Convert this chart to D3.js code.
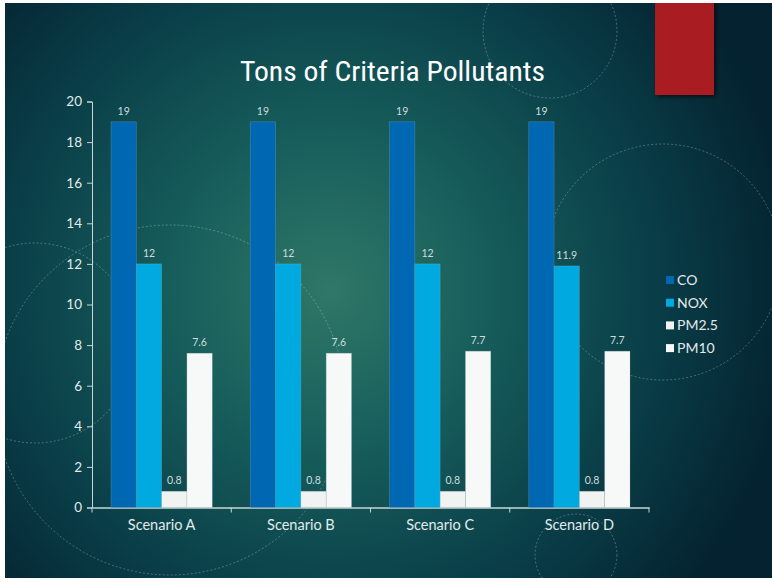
<!DOCTYPE html>
<html>
<head>
<meta charset="utf-8">
<script src="https://cdn.jsdelivr.net/npm/d3@7"></script>
<style>
  body { margin: 0; background: #ffffff; }
  svg { display: block; }
</style>
</head>
<body>
<script>
'use strict';

// chart data
let categories = ["Scenario A", "Scenario B", "Scenario C", "Scenario D"];
let seriesNames = ["CO", "NOX", "PM2.5", "PM10"];
let coValues = [19, 19, 19, 19];
let noxValues = [12, 12, 12, 11.9];
let pm25Values = [0.8, 0.8, 0.8, 0.8];
let pm10Values = [7.6, 7.6, 7.7, 7.7];
let yTicks = [0, 2, 4, 6, 8, 10, 12, 14, 16, 18, 20];
let colors = ["#0067b2", "#00a9e0", "#f1f2f2", "#f7f9f9"];

let seriesValues = [coValues, noxValues, pm25Values, pm10Values];

// page size
let W = 772, H = 582;
let margin = { top: 101.5, left: 92, bottom: 74.5, right: 123 };
let width = W - margin.left - margin.right,
  height = H - margin.top - margin.bottom;

let svg = d3.select("body").append("svg")
  .attr("width", W)
  .attr("height", H);

let defs = svg.append("defs");

// slide background gradient
let grad = defs.append("radialGradient")
  .attr("id", "bg")
  .attr("gradientUnits", "userSpaceOnUse")
  .attr("cx", 330).attr("cy", 290).attr("r", 470);
grad.append("stop").attr("offset", "0%").attr("stop-color", "#2f7767");
grad.append("stop").attr("offset", "35%").attr("stop-color", "#165c5b");
grad.append("stop").attr("offset", "70%").attr("stop-color", "#093d47");
grad.append("stop").attr("offset", "100%").attr("stop-color", "#04222f");

let shadow = defs.append("filter").attr("id", "shadow")
  .attr("x", "-20%").attr("y", "-20%").attr("width", "150%").attr("height", "150%");
shadow.append("feDropShadow")
  .attr("dx", 2).attr("dy", 2).attr("stdDeviation", 2)
  .attr("flood-color", "#000").attr("flood-opacity", 0.6);

let slide = { x: 5, y: 3, w: W - 5, h: H - 7 };

defs.append("clipPath").attr("id", "slideClip")
  .append("rect")
  .attr("x", slide.x).attr("y", slide.y)
  .attr("width", slide.w).attr("height", slide.h);

let bgLayer = svg.append("g").attr("clip-path", "url(#slideClip)");

bgLayer.append("rect")
  .attr("x", slide.x).attr("y", slide.y)
  .attr("width", slide.w).attr("height", slide.h)
  .attr("fill", "url(#bg)");

// decorative circles
let circles = [
  { cx: 550, cy: 31, r: 67 },
  { cx: 663, cy: 262, r: 118 },
  { cx: 35, cy: 343, r: 100 },
  { cx: 170, cy: 400, r: 175 },
  { cx: 576, cy: 555, r: 41 }
];
bgLayer.selectAll(".deco")
  .data(circles)
  .enter()
  .append("circle")
  .attr("class", "deco")
  .attr("cx", d => d.cx)
  .attr("cy", d => d.cy)
  .attr("r", d => d.r)
  .attr("fill", "none")
  .attr("stroke", "#ffffff")
  .attr("stroke-opacity", 0.45)
  .attr("stroke-width", 0.6)
  .attr("stroke-dasharray", "2,2");

// red accent block
bgLayer.append("rect")
  .attr("x", 655).attr("y", 0)
  .attr("width", 59).attr("height", 95)
  .attr("fill", "#a81d21")
  .attr("filter", "url(#shadow)");

// title
svg.append("text")
  .attr("x", 240)
  .attr("y", 81)
  .attr("fill", "#ffffff")
  .attr("textLength", 305)
  .attr("lengthAdjust", "spacingAndGlyphs")
  .style("font-family", "'Liberation Sans Narrow', 'Roboto Condensed', 'Open Sans', sans-serif")
  .style("font-size", "27px")
  .text("Tons of Criteria Pollutants");

// scales
let xScale = d3.scaleBand()
  .domain(categories)
  .range([margin.left, margin.left + width])
  .paddingInner(0)
  .paddingOuter(0);

let groupPad = 19;
let xSub = d3.scaleBand()
  .domain(seriesNames)
  .range([groupPad, xScale.bandwidth() - groupPad]);

let yScale = d3.scaleLinear()
  .domain([0, 20])
  .range([margin.top + height, margin.top]);

let axisColor = "#c9d6d6";
let labelFont = "Lato, 'Open Sans', sans-serif";

// y axis
let yAxis = svg.append("g")
  .attr("transform", "translate(" + margin.left + ",0)")
  .call(d3.axisLeft(yScale).tickValues(yTicks).tickSize(5).tickPadding(5));
yAxis.select(".domain").attr("stroke", axisColor);
yAxis.selectAll(".tick line").attr("stroke", axisColor);
yAxis.selectAll(".tick text")
  .attr("fill", "#e2eaea")
  .style("font-family", labelFont)
  .style("font-size", "13.5px");

// x axis
let xAxis = svg.append("g")
  .attr("transform", "translate(0," + (margin.top + height) + ")")
  .call(d3.axisBottom(xScale).tickSize(0).tickSizeOuter(0).tickPadding(12));
xAxis.select(".domain").attr("stroke", axisColor).attr("stroke-width", 1.3);
xAxis.selectAll(".tick text")
  .attr("fill", "#e2eaea")
  .style("font-family", labelFont)
  .style("font-size", "14.5px");

// category separator ticks
let bounds = categories.map(c => xScale(c)).concat([xScale.range()[1]]);
xAxis.selectAll(".sep")
  .data(bounds)
  .enter()
  .append("line")
  .attr("class", "sep")
  .attr("x1", d => d).attr("x2", d => d)
  .attr("y1", 0).attr("y2", 5)
  .attr("stroke", axisColor);

// bars
let groups = svg.selectAll(".group")
  .data(categories)
  .enter()
  .append("g")
  .attr("class", "group")
  .attr("transform", d => "translate(" + xScale(d) + ",0)");

groups.each(function (cat, ci) {
  let g = d3.select(this);
  let rows = seriesNames.map((s, si) => ({ series: s, value: seriesValues[si][ci], color: colors[si] }));

  g.selectAll("rect")
    .data(rows)
    .enter()
    .append("rect")
    .attr("x", d => xSub(d.series))
    .attr("y", d => yScale(d.value))
    .attr("width", xSub.bandwidth())
    .attr("height", d => yScale(0) - yScale(d.value))
    .attr("fill", d => d.color)
    .attr("stroke", "#9fb9bb")
    .attr("stroke-opacity", 0.35)
    .attr("stroke-width", 0.7);

  g.selectAll(".val")
    .data(rows)
    .enter()
    .append("text")
    .attr("class", "val")
    .attr("x", d => xSub(d.series) + xSub.bandwidth() / 2)
    .attr("y", d => yScale(d.value) - 7)
    .attr("text-anchor", "middle")
    .attr("fill", "#cfdcdc")
    .style("font-family", labelFont)
    .style("font-size", "10.5px")
    .text(d => d.value);
});

// legend
let legend = svg.append("g")
  .attr("transform", "translate(666,280)");
let items = legend.selectAll(".item")
  .data(seriesNames)
  .enter()
  .append("g")
  .attr("class", "item")
  .attr("transform", (d, i) => "translate(0," + (i * 22.7) + ")");
items.append("rect")
  .attr("x", 0).attr("y", -4)
  .attr("width", 8).attr("height", 8)
  .attr("fill", (d, i) => colors[i]);
items.append("text")
  .attr("x", 11)
  .attr("y", 5)
  .attr("fill", "#e2eaea")
  .style("font-family", labelFont)
  .style("font-size", "14px")
  .text(d => d);
</script>
</body>
</html>
